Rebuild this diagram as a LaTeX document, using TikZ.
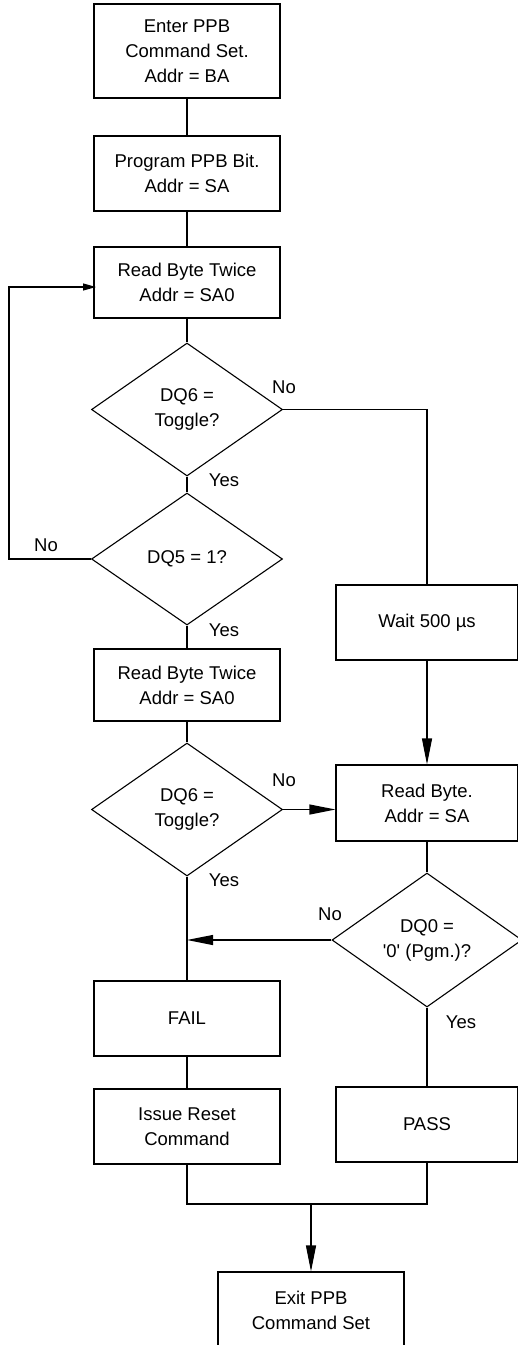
\documentclass[tikz,border=0pt]{standalone}
\usepackage{fontspec}
\setmainfont{Liberation Sans}
\usetikzlibrary{shapes.geometric,arrows.meta}
\tikzset{every picture/.style={line width=1.1pt}}

\begin{document}
\begin{tikzpicture}[x=1pt,y=1pt,yscale=-1,xscale=1,
        font=\fontsize{18.5}{25}\selectfont,
        procbox/.style={draw,rectangle,align=center,inner sep=0pt,minimum width=186pt},
        sidebox/.style={draw,rectangle,align=center,inner sep=0pt,minimum width=182pt},
        decbox/.style={draw,diamond,align=center,inner sep=0pt,minimum width=191pt,minimum height=133pt},
        lbl/.style={inner sep=0.75pt},
        bigtip/.style={-{Triangle[length=26pt,width=10pt]}},
        smalltip/.style={-{Triangle[length=13pt,width=7pt]}}]
        \useasboundingbox (0,0) rectangle (518,1345);

        % left column
        \node [procbox,minimum height=94pt] (enter) at (187,51) {Enter PPB\\Command Set.\\Addr = BA};
        \node [procbox,minimum height=75pt] (prog) at (187,173.5) {Program PPB Bit.\\Addr = SA};
        \node [procbox,minimum height=71pt] (readA) at (187,282.5) {Read Byte Twice\\Addr = SA0};
        \node [decbox] (dqsixA) at (187,409.5) {DQ6 =\\Toggle?};
        \node [decbox,minimum height=132pt] (dqfive) at (187,559) {DQ5 = 1?};
        \node [procbox,minimum height=72pt] (readB) at (187,685) {Read Byte Twice\\Addr = SA0};
        \node [decbox] (dqsixB) at (187,809.5) {DQ6 =\\Toggle?};
        \node [procbox,minimum height=75pt] (fail) at (187,1018.5) {FAIL};
        \node [procbox,minimum height=75pt] (reset) at (187,1126.5) {Issue Reset\\Command};

        % right column
        \node [sidebox,minimum height=75pt] (wait) at (427,622.5) {Wait 500 µs};
        \node [sidebox,minimum height=76pt] (readbyte) at (427,803) {Read Byte.\\Addr = SA};
        \node [decbox,minimum width=190pt,minimum height=134pt] (dqzero) at (427,940) {DQ0 =\\\textquotesingle 0\textquotesingle\ (Pgm.)?};
        \node [sidebox,minimum height=75pt] (pass) at (427,1124.5) {PASS};

        % exit
        \node [procbox,minimum height=76pt] (exit) at (311,1310) {Exit PPB\\Command Set};

        \coordinate (loopL) at (9,559);
        \coordinate (loopIn) at (96,287);
        \coordinate (join) at (311,1204);

        % connectors
        \draw (enter) -- (prog);
        \draw (prog) -- (readA);
        \draw (readA) -- (dqsixA);
        \draw (dqsixA) -- (dqfive);
        \draw [smalltip] (dqfive.west) -- (loopL) |- (loopIn);
        \draw (dqsixA.east) -| (wait.north);
        \draw (dqfive) -- (readB);
        \draw (readB) -- (dqsixB);
        \draw [bigtip] (dqsixB.east) -- (dqsixB.east -| readbyte.west);
        \draw [bigtip] (wait) -- (readbyte);
        \draw (readbyte) -- (dqzero);
        \draw (dqsixB) -- (fail);
        \draw [bigtip] (dqzero.west) -- (dqzero.west -| fail.north);
        \draw (fail) -- (reset);
        \draw (dqzero) -- (pass);
        \draw (reset.south) |- (join) -| (pass.south);
        \draw [bigtip] (join) -- (exit.north);

        % Text Node
        \draw (284,387) node [lbl] (noA) {No};
        % Text Node
        \draw (224,480) node [lbl] (yesA) {Yes};
        % Text Node
        \draw (46,545) node [lbl] (noB) {No};
        % Text Node
        \draw (224,630) node [lbl] (yesB) {Yes};
        % Text Node
        \draw (284,780) node [lbl] (noC) {No};
        % Text Node
        \draw (224,880) node [lbl] (yesC) {Yes};
        % Text Node
        \draw (330,914) node [lbl] (noD) {No};
        % Text Node
        \draw (461,1022) node [lbl] (yesD) {Yes};

\end{tikzpicture}
\end{document}
